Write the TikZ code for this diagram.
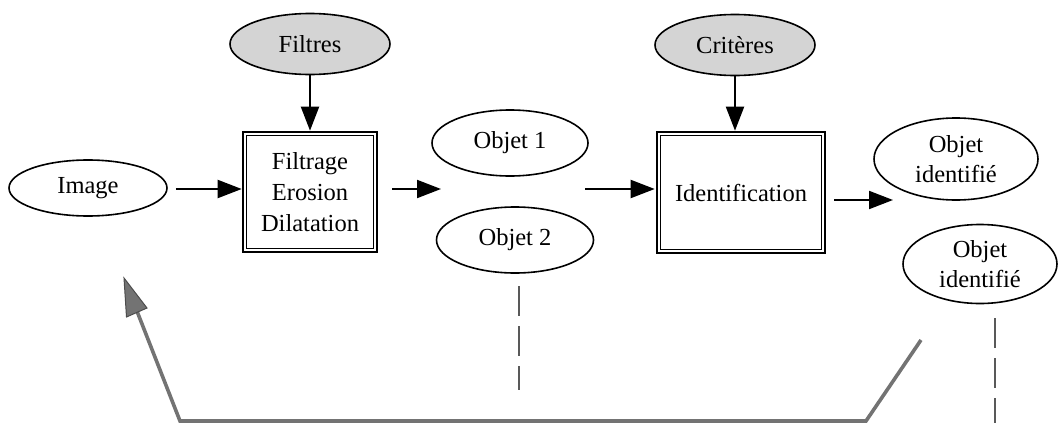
\documentclass[tikz,border=0pt]{standalone}
\usepackage{fontspec}
\setmainfont{Liberation Serif}
\usetikzlibrary{arrows.meta,shapes.geometric,calc}
\begin{document}
\begin{tikzpicture}[x=1pt,y=-1pt,
  ell/.style={draw,line width=1.6pt,ellipse,inner sep=0pt,font=\fontsize{24.5}{30}\selectfont,align=center},
  gell/.style={ell,fill=black!17},
  dbox/.style={draw,line width=2.6pt,inner sep=0pt,font=\fontsize{24.5}{31}\selectfont,align=center},
  arr/.style={line width=2pt,-{Triangle[length=24pt,width=18pt]}},
  dsh/.style={draw=black!65,line width=2.2pt,dash pattern=on 30pt off 10pt},
  fb/.style={draw=black!55,line width=3.6pt,line join=miter}]
\useasboundingbox (0,0) rectangle (1058,423);
% nodes
\node[gell,minimum width=160pt,minimum height=61pt] (filtres) at (310,44) {Filtres};
\node[gell,minimum width=160pt,minimum height=61pt] (criteres) at (735,45) {Critères};
\node[ell,minimum width=158pt,minimum height=56pt] (image) at (88,188) {Image};
\node[dbox,minimum width=134pt,minimum height=120pt] (filt) at (310,192) {Filtrage\\Erosion\\Dilatation};
\node[dbox,minimum width=168pt,minimum height=121pt] (ident) at (741,192.5) {Identification};
\node[ell,minimum width=156pt,minimum height=66pt] (obj1) at (510,143) {Objet 1};
\node[ell,minimum width=157pt,minimum height=66pt] (obj2) at (515,240) {Objet 2};
\node[ell,minimum width=164pt,minimum height=82pt] (oid1) at (956,159) {Objet\\identifié};
\node[ell,minimum width=154pt,minimum height=79pt] (oid2) at (980,264) {Objet\\identifié};
% inner lines of double boxes
\draw[line width=1.3pt] ([shift={(5,5)}]filt.north west) rectangle ([shift={(-5,-5)}]filt.south east);
\draw[line width=1.3pt] ([shift={(5,5)}]ident.north west) rectangle ([shift={(-5,-5)}]ident.south east);
% coordinates
\coordinate (m1) at (441,189);
\coordinate (m2) at (585,189);
\coordinate (m3) at (893,200);
\coordinate (d1a) at (519,286);
\coordinate (d1b) at (519,390);
\coordinate (d2a) at (995,318);
\coordinate (d2b) at (995,423);
\coordinate (fa) at (921,340);
\coordinate (fb1) at (866,421);
\coordinate (fb2) at (180,421);
\coordinate (ftip) at (124,278);
% arrows
\draw[arr] (filtres.south) -- (filtres.south |- filt.north);
\draw[arr] (criteres.south) -- (criteres.south |- ident.north);
\draw[arr,shorten <=8pt] (image.east |- m1) -- (filt.west |- m1);
\draw[arr,shorten <=14pt] (filt.east |- m1) -- (m1);
\draw[arr,shorten >=1pt] (m2) -- (ident.west |- m2);
\draw[arr,shorten <=8pt] (ident.east |- m3) -- (m3);
% dashed lines
\draw[dsh] (d1a) -- (d1b);
\draw[dsh] (d2a) -- (d2b);
% feedback
\draw[fb] (fa) -- (fb1) -- (fb2) -- ($(fb2)!0.78!(ftip)$);
\fill[black!55,draw=black!70,line width=1pt] (ftip) -- (126.5,317) -- (147,308) -- cycle;
\end{tikzpicture}
\end{document}
